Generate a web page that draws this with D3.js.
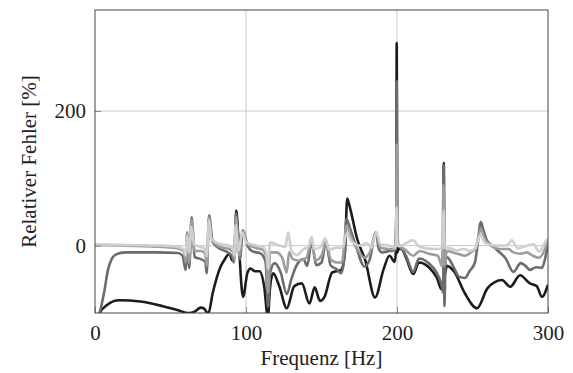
<!DOCTYPE html>
<html>
<head>
<meta charset="utf-8">
<script src="https://cdn.jsdelivr.net/npm/d3@7"></script>
<style>
  html, body { margin: 0; padding: 0; background: #fff; }
</style>
</head>
<body>
<div id="chart"></div>
<script>
// tick labels
const xTicks = [0, 100, 200, 300];
const yTicks = [0, 200];

// series: frequency [Hz] and relative error [%]
const blackHz  = [0, 3, 8, 16, 30, 45, 55, 62, 66, 70, 72, 75, 78, 83, 86, 89, 91, 92.7, 93.5, 95, 98, 101, 103, 106, 109, 112, 114.5, 116, 118, 122, 127, 132, 137, 142, 145.5, 149, 152, 157, 163, 165.5, 167, 169, 173.5, 179, 185.5, 191, 195, 198.5, 199.5, 199.8, 200.2, 201, 203, 206, 210.8, 214.5, 221, 226.5, 229.5, 230.6, 231, 231.4, 233, 238, 245, 253, 260, 269.5, 275, 281.5, 288, 292.5, 296, 300];
const blackVal = [-115, -100, -88, -81, -83, -90, -96, -100, -98, -92, -93, -101, -70, -32, -20, -12, -22, -8, 52, 10, -76, -40, -34, -38, -38, -60, -105, -60, -41, -60, -93, -60, -56, -86, -62, -82, -76, -40, -36, -10, 70, 55, 11, -22, -77, -36, -15, -24, 0, 301, -10, -5, -5, -18, -42, -25, -32, -48, -65, -60, 123, -45, -30, -39, -71, -93, -63, -51, -61, -44, -56, -60, -76, -58];

const darkHz  = [0, 3, 6, 8.6, 11, 14, 20, 40, 55, 58, 60, 61, 62.4, 64, 66, 70, 73, 74, 75.5, 78, 83, 88, 91, 92, 93.4, 96, 98, 101, 104, 110, 113, 114.6, 116, 119, 123, 127, 130, 133.6, 138, 140.5, 143.5, 146.5, 150, 153, 156, 160, 163, 165, 166.5, 169, 173, 178.5, 182, 186, 188, 190, 195, 198, 199.5, 199.8, 200.1, 201, 202, 206, 210.8, 214.5, 221, 226.5, 229.5, 230.6, 230.9, 231.4, 232.2, 233, 238, 241, 245, 248, 251.6, 253, 255.5, 257, 259.5, 263, 267, 272, 277, 282, 285, 288, 292, 296, 298, 300];
const darkVal = [-115, -100, -70, -36, -20, -13, -10, -10, -11, -15, -36, 20, -33, 42, -17, -20, -24, -41, 45, 5, -5, -10, -17, -25, 48, -20, 23, 0, -8, -12, -25, -91, -40, -26, -40, -72, -50, -29, -20, -30, 5, -29, -25, 5, -29, -35, -41, -20, 40, 25, -2, -31, -20, 20, -5, -10, -8, -7, 40, 244, 40, 0, -2, -15, -39, -19, -26, -41, -58, -70, 120, -90, -20, -17, -34, -46, -48, -38, -25, -5, 35, 25, 8, 0, -8, -19, -39, -26, -30, -36, -32, -33, -20, 5];

const midHz  = [0, 20, 45, 55, 59, 60, 61, 62.4, 64, 66, 70, 73, 74, 75.5, 77.5, 83, 89, 91.5, 92.3, 93.3, 95.5, 97.8, 101, 106, 111, 113.5, 114.6, 116, 120, 124, 127, 128.5, 131, 135, 140, 143.5, 146, 150, 153, 156, 160, 163.5, 166.6, 170, 175, 178.5, 182, 186.2, 189, 195, 199, 199.5, 199.8, 200.1, 201, 205, 210.8, 215, 221, 227, 229.8, 230.8, 231.3, 233, 240, 245, 249, 252, 255.4, 258, 262, 268, 274, 277, 282, 286, 290, 294, 298, 300];
const midVal = [1, 0, -2, -4, -9, -25, 18, -25, 38, -8, -8, -12, -30, 42, 8, -2, -5, -10, -20, 42, -15, 22, 2, -3, -6, -18, -70, -10, -10, -18, -40, -10, -20, -22, -18, 8, -22, -15, 6, -20, -25, -25, 30, 10, -10, -18, -10, 20, -3, -5, -6, 30, 150, 20, 0, -5, -15, -8, -12, -15, -30, 90, -30, -8, -12, -15, -10, -5, 25, 10, 0, -5, -5, -10, -12, -10, -15, -18, -5, 8];

const lightHz  = [0, 20, 45, 55, 59, 60, 61, 62.3, 63.8, 65.5, 70, 73, 74, 75.5, 77, 82, 89, 91.5, 92.3, 93.2, 95, 97.5, 100, 105, 111, 113.5, 114.6, 116, 120, 126, 128, 130, 134, 138, 141, 143.5, 145, 149, 152.5, 155, 160, 164, 166.6, 170, 176, 180, 183, 186.3, 189, 195, 199, 199.8, 200.3, 202, 207, 210.6, 214, 219, 226, 230, 231, 231.5, 235, 239.5, 244, 248.5, 252, 255.3, 258, 262, 268, 273, 276, 280, 286, 290.5, 294, 299, 300];
const lightVal = [2, 1, 0, -2, -6, -15, 15, -10, 28, 2, -2, -5, -16, 38, 10, 3, 0, -6, -15, 30, -8, 20, 5, 1, -2, -10, -35, 5, 2, -2, 20, -7, -14, -5, -3, 13, -5, -3, 11, -6, -3, -3, 18, 6, 0, 4, -3, 20, 2, 0, -3, 57, 0, 0, 5, 8, 0, -4, -5, -4, 52, -3, -4, -7, -5, -8, -3, 16, 5, 1, 0, 1, 8, -4, 0, 2, -9, 8, 10];

const serif = "'Liberation Serif'";

const margin = {top: 10, right: 25, bottom: 60, left: 95},
    width = 573 - margin.left - margin.right,
    height = 373 - margin.top - margin.bottom;

const svg = d3.select("#chart")
  .append("svg")
    .attr("width", 573)
    .attr("height", 373)
  .append("g")
    .attr("transform", `translate(${margin.left},${margin.top})`);

const x = d3.scaleLinear().domain([0, 300]).range([0, width]);
const y = d3.scaleLinear().domain([-100, 350]).range([height, 0]);

svg.append("clipPath").attr("id", "clip")
  .append("rect").attr("width", width).attr("height", height);

// grid
svg.append("g").selectAll("line").data(xTicks.slice(1, -1)).join("line")
  .attr("x1", d => x(d)).attr("x2", d => x(d))
  .attr("y1", 0).attr("y2", height)
  .attr("stroke", "#c8c8c8").attr("stroke-width", 1);
svg.append("g").selectAll("line").data(yTicks).join("line")
  .attr("x1", 0).attr("x2", width)
  .attr("y1", d => y(d)).attr("y2", d => y(d))
  .attr("stroke", "#c8c8c8").attr("stroke-width", 1);

// lines
const line = d3.line()
  .x(d => x(d[0]))
  .y(d => y(d[1]))
  .curve(d3.curveMonotoneX);

const series = [
  {hz: blackHz, val: blackVal, color: "#1c1c1c"},
  {hz: darkHz,  val: darkVal,  color: "#6c6c6c"},
  {hz: midHz,   val: midVal,   color: "#9d9d9d"},
  {hz: lightHz, val: lightVal, color: "#cfcfcf"}
];

const plot = svg.append("g").attr("clip-path", "url(#clip)");
series.forEach(s => {
  plot.append("path")
    .datum(s.hz.map((h, i) => [h, s.val[i]]))
    .attr("fill", "none")
    .attr("stroke", s.color)
    .attr("stroke-width", 2.6)
    .attr("stroke-linejoin", "round")
    .attr("d", line);
});

// axes with inward ticks
const xAxis = svg.append("g")
  .attr("transform", `translate(0, ${height})`)
  .call(d3.axisBottom(x).tickValues(xTicks).tickSizeInner(-6).tickSizeOuter(0).tickPadding(12));
const yAxis = svg.append("g")
  .call(d3.axisLeft(y).tickValues(yTicks).tickSizeInner(-6).tickSizeOuter(0).tickPadding(9));

[xAxis, yAxis].forEach(g => {
  g.attr("font-family", null).attr("font-size", null);
  g.select(".domain").remove();
  g.selectAll("line").attr("stroke", "#888");
  g.selectAll("text")
    .style("font-family", serif)
    .style("font-size", "21px")
    .attr("fill", "#222");
});

// frame
svg.append("rect")
  .attr("width", width).attr("height", height)
  .attr("fill", "none").attr("stroke", "#444").attr("stroke-width", 1);

// axis labels
svg.append("text")
  .attr("x", width / 2).attr("y", height + 52)
  .attr("text-anchor", "middle")
  .style("font-family", serif)
  .style("font-size", "21px")
  .attr("fill", "#222")
  .text("Frequenz [Hz]");

svg.append("text")
  .attr("transform", `translate(${-59}, ${height / 2}) rotate(-90)`)
  .attr("text-anchor", "middle")
  .style("font-family", serif)
  .style("font-size", "21px")
  .attr("fill", "#222")
  .text("Relativer Fehler [%]");
</script>
</body>
</html>
